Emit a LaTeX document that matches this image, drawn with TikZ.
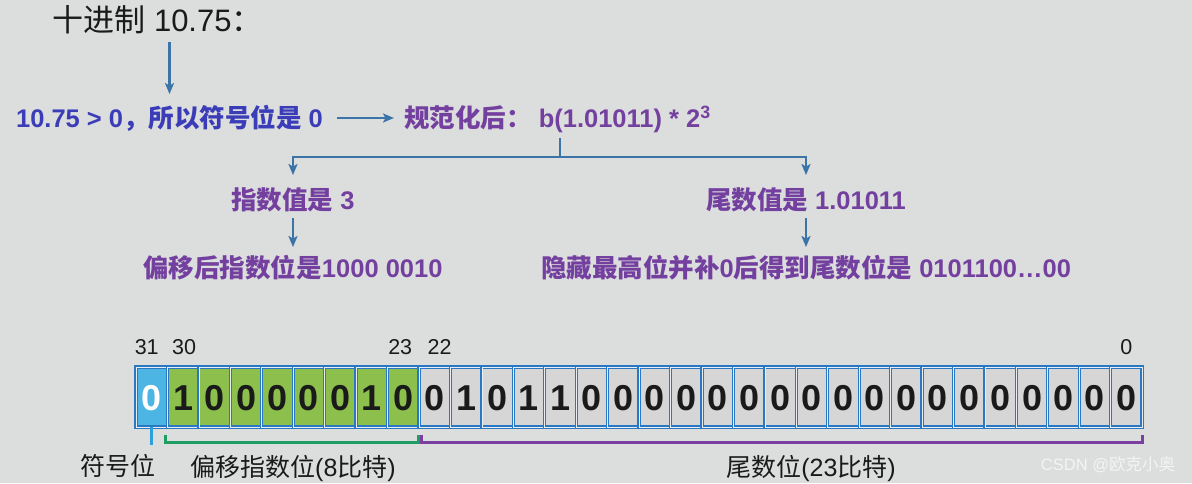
\documentclass[tikz,border=0pt]{standalone}
\usepackage{fontspec}
\setmainfont{Liberation Sans}
\newfontfamily\cjk{Noto Sans CJK SC}
\usetikzlibrary{arrows.meta}
\newcommand{\C}[1]{{\cjk #1}}
\definecolor{bg}{HTML}{DCDDDD}
\definecolor{arrowblue}{HTML}{3C74A8}
\definecolor{txtblue}{HTML}{3B3DB8}
\definecolor{txtpurple}{HTML}{7440A0}
\definecolor{cellblue}{HTML}{2B78C2}
\definecolor{signfill}{HTML}{4DB5E4}
\definecolor{greenfill}{HTML}{8CBF4C}
\definecolor{grayfill}{HTML}{D6D6D6}
\definecolor{bracegreen}{HTML}{1E9E62}
\definecolor{bracepurple}{HTML}{7A3FA0}
\definecolor{signline}{HTML}{2BA0DC}
\definecolor{ink}{HTML}{1A1A1A}
\definecolor{wmark}{HTML}{F4F4F4}
\definecolor{cellinner}{HTML}{E8EEF4}
\begin{document}
\begin{tikzpicture}[x=1pt,y=-1pt,
  arr/.style={draw=arrowblue, line width=2.2pt, -{Stealth[length=11pt,width=9pt,inset=2.5pt]}},
  conn/.style={draw=arrowblue, line width=2.2pt},
  titlestyle/.style={font=\fontsize{31}{31}\selectfont, text=ink, inner sep=0pt, text height=27.3pt, text depth=3.7pt},
  bluetext/.style={font=\fontsize{25.5}{25.5}\selectfont\bfseries, text=txtblue, inner sep=0pt, text height=22.4pt, text depth=3.1pt},
  purptext/.style={font=\fontsize{25.5}{25.5}\selectfont\bfseries, text=txtpurple, inner sep=0pt, text height=22.4pt, text depth=3.1pt},
  cell/.style={draw=cellblue, line width=1.3pt, double=cellinner, double distance=0.6pt, minimum width=31.44pt, minimum height=60pt, inner sep=0pt, outer sep=0pt, font=\fontsize{36}{36}\selectfont\bfseries, text height=26pt, text depth=0pt},
  idx/.style={font=\fontsize{21.5}{21.5}\selectfont, text=ink, inner sep=0pt, text height=15.5pt, text depth=0pt},
  lab/.style={font=\fontsize{25}{25}\selectfont, text=ink, inner sep=0pt, text height=22pt, text depth=3pt},
  wm/.style={font=\fontsize{16.5}{16.5}\selectfont, text=wmark, inner sep=0pt},
  sgnbr/.style={draw=signline, line width=3pt},
  grnbr/.style={draw=bracegreen, line width=3pt},
  purbr/.style={draw=bracepurple, line width=3pt}
]
\fill[bg] (0,0) rectangle (1192,483);
\useasboundingbox (0,0) rectangle (1192,483);

% top text
\node[titlestyle] (t) at (157.5,20) {\C{十进制} 10.75\C{：}};
\node[bluetext] (l2) at (169.5,118) {10.75 > 0\C{，所以符号位是} 0};
\node[purptext] (norm) at (557.5,118) {\C{规范化后：} b(1.01011) * 2\textsuperscript{3}};
\node[purptext] (e1) at (293,200) {\C{指数值是} 3};
\node[purptext] (e2) at (293,268) {\C{偏移后指数位是}1000 0010};
\node[purptext] (m1) at (806,200) {\C{尾数值是} 1.01011};
\node[purptext] (m2) at (806,268) {\C{隐藏最高位并补}0\C{后得到尾数位是} 0101100…00};

\draw[arr, shorten <=6.5pt, shorten >=11pt] (t.south -| l2.north) -- (l2.north);
\draw[arr, shorten <=14pt, shorten >=10pt] (l2.east) -- (norm.west);
\coordinate (j) at (560,157);
\draw[conn, shorten <=7pt] (norm.south -| j) -- (j);
\draw[arr, shorten >=12pt] (j) -| (e1.north);
\draw[arr, shorten >=12pt] (j) -| (m1.north);
\draw[arr, shorten <=5pt, shorten >=8pt] (e1.south) -- (e2.north);
\draw[arr, shorten <=5pt, shorten >=8pt] (m1.south) -- (m2.north);

% bit cells
\foreach \b [count=\k from 0] in {0,1,0,0,0,0,0,1,0,0,1,0,1,1,0,0,0,0,0,0,0,0,0,0,0,0,0,0,0,0,0,0} {
  \pgfmathtruncatemacro{\i}{31-\k}
  \ifnum\k=0 \def\fc{signfill}\def\tc{white}\else\ifnum\k<9 \def\fc{greenfill}\def\tc{ink}\else\def\fc{grayfill}\def\tc{ink}\fi\fi
  \node[cell, fill=\fc, text=\tc] (c\i) at ({151.72+\k*31.44},397) {\b};
}

% bit indices
\node[idx] (i31) at ([xshift=-5pt,yshift=20pt]c31.north) {31};
\node[idx] (i30) at ([xshift=1pt,yshift=20pt]c30.north) {30};
\node[idx] (i23) at ([xshift=-3pt,yshift=20pt]c23.north) {23};
\node[idx] (i22) at ([xshift=5pt,yshift=20pt]c22.north) {22};
\node[idx] (i0) at ([yshift=20pt]c0.north) {0};

% brackets
\draw[sgnbr] (c31.south) -- ++(0,18);
\draw[grnbr] ([xshift=-2pt,yshift=-8pt]c30.south west) -- ++(0,7) -| ([yshift=-8pt]c23.south east);
\draw[purbr] ([xshift=3pt,yshift=-8pt]c22.south west) -- ++(0,7) -| ([yshift=-8pt]c0.south east);

% labels
\node[lab] (lsign) at (118,466) {\C{符号位}};
\node[lab] (lexp) at (293,467) {\C{偏移指数位}(8\C{比特})};
\node[lab] (lman) at (811,467) {\C{尾数位}(23\C{比特})};
\node[wm] (wmk) at (1108,465) {CSDN @\C{欧克小奥}};
\end{tikzpicture}
\end{document}
